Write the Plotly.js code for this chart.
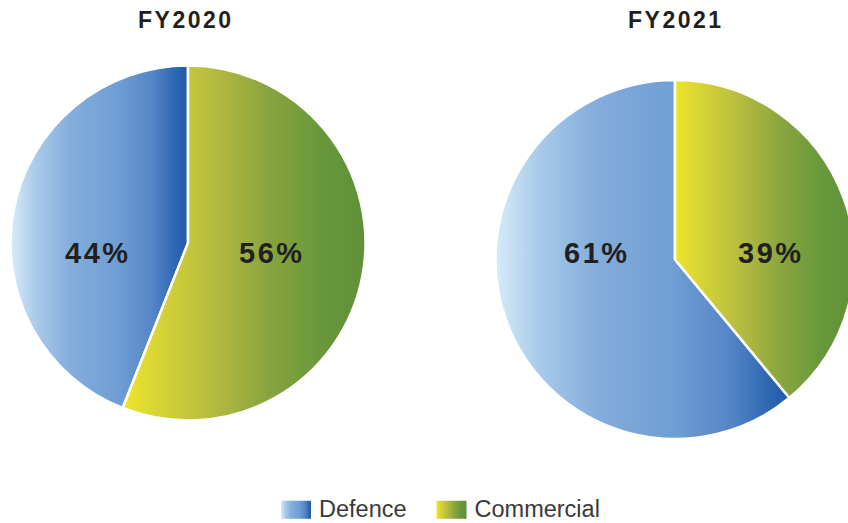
<!DOCTYPE html>
<html>
<head>
<meta charset="utf-8">
<script src="https://cdn.plot.ly/plotly-3.0.1.min.js"></script>
<style>
  html, body { margin:0; padding:0; background:#fff; overflow:hidden; }
  #chart { width:880px; height:523px; }
  .annotation-text { letter-spacing: 2.5px; }
</style>
</head>
<body>
<div id="chart"></div>
<script>
const years = ['FY2020', 'FY2021'];
const segments = ['Defence', 'Commercial'];
const fy2020 = [44, 56];
const fy2021 = [61, 39];

const W = 880, H = 523;
const FONT = 'Liberation Sans, Arial, sans-serif';
function startAngle(vals) {
  const tot = vals.reduce((a, b) => a + b, 0);
  return -360 * vals[0] / tot;
}
const pieCommon = {
  type: 'pie',
  labels: segments,
  sort: false,
  direction: 'clockwise',
  textinfo: 'none',
  marker: { colors: ['#6f9fd4', '#a3b33f'], line: { color: '#ffffff', width: 2.5 } },
  hoverinfo: 'none'
};

const data = [
  Object.assign({}, pieCommon, {
    values: fy2020, name: years[0], rotation: startAngle(fy2020),
    domain: { x: [10.5 / W, 365.5 / W], y: [(H - 420.5) / H, (H - 65.5) / H] }
  }),
  Object.assign({}, pieCommon, {
    values: fy2021, name: years[1], rotation: startAngle(fy2021), showlegend: false,
    domain: { x: [495.5 / W, 854.5 / W], y: [(H - 439) / H, (H - 80) / H] }
  })
];

function title(txt, xpx) {
  return { text: '<b>' + txt + '</b>', xref: 'paper', yref: 'paper', x: xpx / W, y: (H - 20.5) / H,
    xanchor: 'center', yanchor: 'middle', showarrow: false,
    font: { family: FONT, size: 23, color: '#231f20' } };
}
function pct(v, xpx) {
  return { text: '<b>' + v + '%</b>', xref: 'paper', yref: 'paper', x: xpx / W, y: (H - 252.5) / H,
    xanchor: 'center', yanchor: 'middle', showarrow: false,
    font: { family: FONT, size: 29, color: '#231f20' } };
}

const layout = {
  width: W, height: H,
  margin: { l: 0, r: 0, t: 0, b: 0, autoexpand: false },
  paper_bgcolor: '#ffffff',
  showlegend: true,
  legend: {
    orientation: 'h', x: 256 / W, xanchor: 'left', y: (H - 508.5) / H, yanchor: 'middle',
    itemwidth: 53,
    font: { family: FONT, size: 23.5, color: '#3a3a3a' },
    itemclick: false, itemdoubleclick: false
  },
  annotations: [
    title(years[0], 186), title(years[1], 676),
    pct(fy2020[0], 97.5), pct(fy2020[1], 271.5),
    pct(fy2021[0], 596.5), pct(fy2021[1], 771)
  ]
};

const gradStops = {
  Defence: [[0, '#d6ecf8'], [0.15, '#a9c9e9'], [0.35, '#82acdb'], [0.6, '#709fd4'], [0.8, '#5585c6'], [0.93, '#2e66b2'], [1, '#1f5caa']],
  Commercial: [[0, '#eee52a'], [0.15, '#d6d336'], [0.4, '#b0b840'], [0.6, '#88a43e'], [0.8, '#6a993b'], [1, '#5f9038']]
};

Plotly.newPlot('chart', data, layout, { staticPlot: true, displayModeBar: false }).then(gd => {
  const ns = 'http://www.w3.org/2000/svg';
  const svg = gd.querySelector('svg.main-svg');
  let defs = svg.querySelector('defs');
  if (!defs) { defs = document.createElementNS(ns, 'defs'); svg.insertBefore(defs, svg.firstChild); }
  const ids = {};
  segments.forEach((seg, k) => {
    const lg = document.createElementNS(ns, 'linearGradient');
    const id = 'grad' + k;
    ids[seg] = id;
    lg.setAttribute('id', id);
    lg.setAttribute('x1', '0'); lg.setAttribute('y1', '0');
    lg.setAttribute('x2', '1'); lg.setAttribute('y2', '0');
    gradStops[seg].forEach(([o, c]) => {
      const st = document.createElementNS(ns, 'stop');
      st.setAttribute('offset', o);
      st.setAttribute('stop-color', c);
      lg.appendChild(st);
    });
    defs.appendChild(lg);
  });
  gd.querySelectorAll('.pielayer .slice').forEach(s => {
    const d = s.__data__;
    const p = s.querySelector('path.surface');
    if (d && p) p.style.fill = 'url(#' + ids[d.label] + ')';
  });
  gd.querySelectorAll('.legend .traces').forEach(t => {
    const txt = t.querySelector('.legendtext');
    const lab = txt ? txt.textContent.trim() : null;
    t.querySelectorAll('.legendpoints path').forEach(p => {
      if (lab && ids[lab]) {
        p.setAttribute('d', 'M-6.5,-7.5h30v18h-30Z');
        p.style.fill = 'url(#' + ids[lab] + ')';
        p.style.strokeWidth = '0';
      }
    });
  });
});
</script>
</body>
</html>
